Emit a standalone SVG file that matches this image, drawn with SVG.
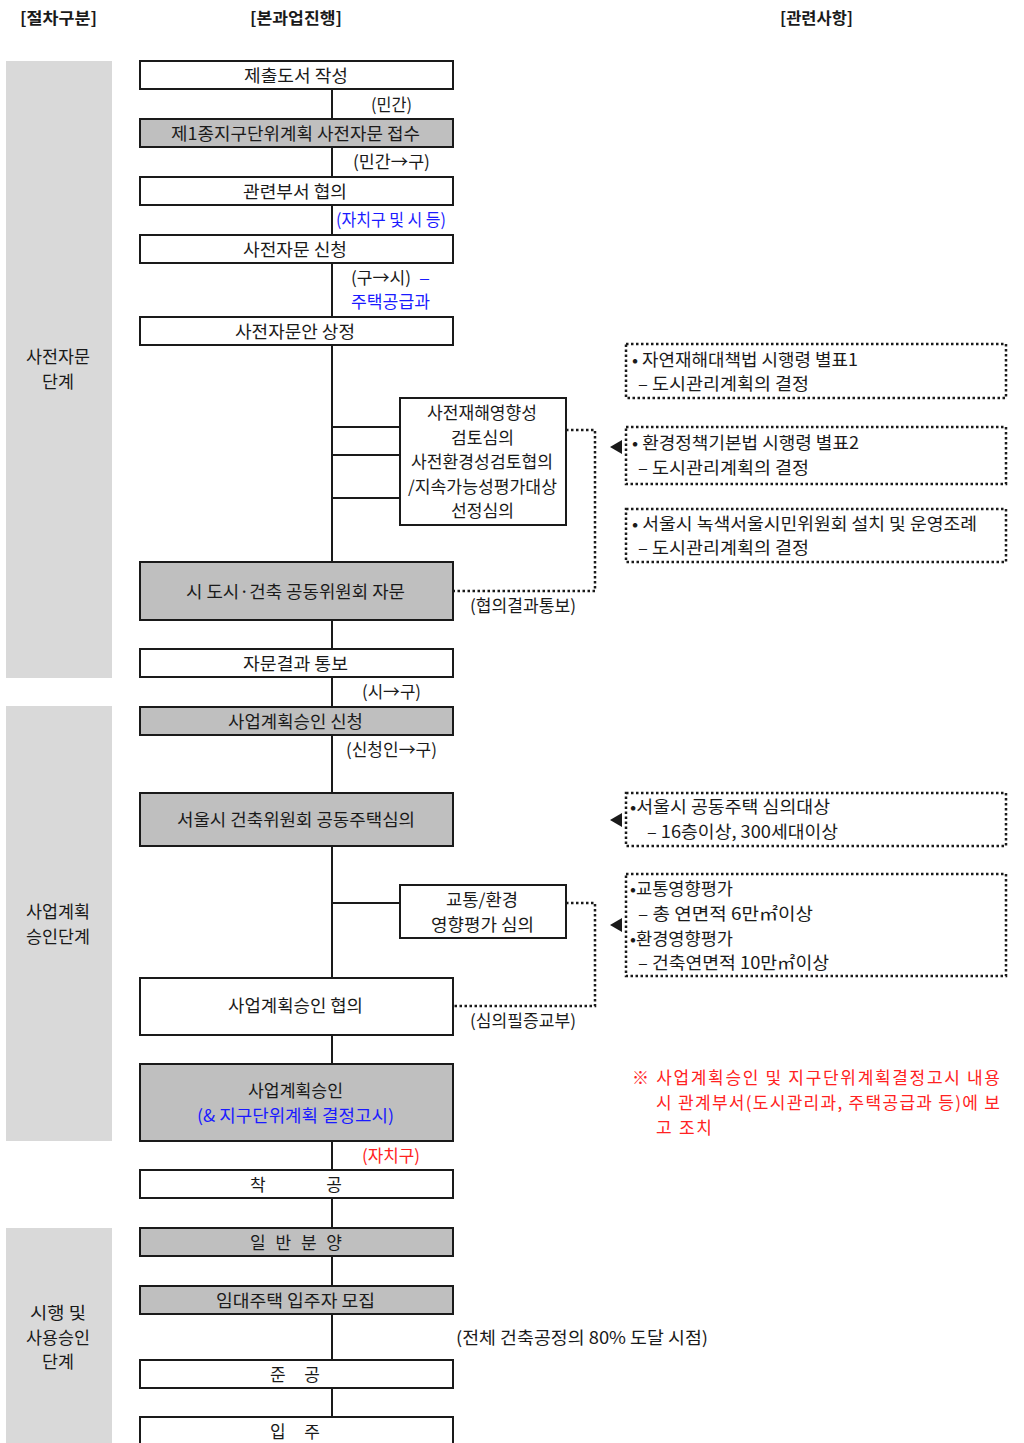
<svg xmlns="http://www.w3.org/2000/svg" width="1024" height="1443" viewBox="0 0 1024 1443">
<style>
text{font-family:"Noto Sans CJK KR","Noto Sans",sans-serif;font-size:17px;fill:#1a1a1a}
.h{font-weight:bold;font-size:16px}
.b{fill:#1a1aff}
.r{fill:#ff2222}
.box{fill:#fff;stroke:#1a1a1a;stroke-width:2}
.gbox{fill:#bfbfbf;stroke:#1a1a1a;stroke-width:2}
.phase{fill:#d9d9d9}
.ln{stroke:#1a1a1a;stroke-width:2;fill:none}
.dot{stroke:#1a1a1a;stroke-width:2.5;fill:none;stroke-dasharray:2.5 2.5}
.dbox{fill:none;stroke:#1a1a1a;stroke-width:2.5;stroke-dasharray:2.5 2.5}
.arr{fill:#1a1a1a}
</style>
<rect width="1024" height="1443" fill="#fff"/>

<g id="headers">
<text class="h" x="20" y="24" textLength="77" lengthAdjust="spacingAndGlyphs">[절차구분]</text>
<text class="h" x="250" y="24" textLength="92" lengthAdjust="spacingAndGlyphs">[본과업진행]</text>
<text class="h" x="780" y="24" textLength="73" lengthAdjust="spacingAndGlyphs">[관련사항]</text>
</g>

<g id="phase1"><rect class="phase" x="6" y="61" width="106" height="617"/>
<text x="26" y="363" textLength="64" lengthAdjust="spacingAndGlyphs">사전자문</text>
<text x="42" y="388" textLength="32" lengthAdjust="spacingAndGlyphs">단계</text></g>
<g id="phase2"><rect class="phase" x="6" y="706" width="106" height="435"/>
<text x="26" y="918" textLength="64" lengthAdjust="spacingAndGlyphs">사업계획</text>
<text x="26" y="943" textLength="64" lengthAdjust="spacingAndGlyphs">승인단계</text></g>
<g id="phase3"><rect class="phase" x="6" y="1228" width="106" height="215"/>
<text x="30" y="1319" textLength="56" lengthAdjust="spacingAndGlyphs">시행 및</text>
<text x="26" y="1344" textLength="64" lengthAdjust="spacingAndGlyphs">사용승인</text>
<text x="42" y="1368" textLength="32" lengthAdjust="spacingAndGlyphs">단계</text></g>

<g id="connectors">
<line class="ln" x1="332" y1="89" x2="332" y2="1443"/>
<line class="ln" x1="332" y1="427" x2="400" y2="427"/>
<line class="ln" x1="332" y1="455" x2="400" y2="455"/>
<line class="ln" x1="332" y1="498" x2="400" y2="498"/>
<line class="ln" x1="332" y1="903" x2="400" y2="903"/>
<polyline class="dot" points="566,430 595,430 595,591 453,591"/>
<polyline class="dot" points="566,903 595,903 595,1006 453,1006"/>
<polygon class="arr" points="610,447 622,440 622,454"/>
<polygon class="arr" points="610,820 622,813 622,827"/>
<polygon class="arr" points="610,925 622,918 622,932"/>
<text x="371" y="111" textLength="41" lengthAdjust="spacingAndGlyphs">(민간)</text>
<text x="353" y="168" textLength="77" lengthAdjust="spacingAndGlyphs">(민간→구)</text>
<text class="b" x="336" y="226" textLength="110" lengthAdjust="spacingAndGlyphs">(자치구 및 시 등)</text>
<text x="351" y="284" textLength="60" lengthAdjust="spacingAndGlyphs">(구→시)</text>
<text class="b" x="419" y="284" textLength="11" lengthAdjust="spacingAndGlyphs">–</text>
<text class="b" x="351" y="308" textLength="79" lengthAdjust="spacingAndGlyphs">주택공급과</text>
<text x="470" y="612" textLength="106" lengthAdjust="spacingAndGlyphs">(협의결과통보)</text>
<text x="362" y="698" textLength="59" lengthAdjust="spacingAndGlyphs">(시→구)</text>
<text x="346" y="756" textLength="91" lengthAdjust="spacingAndGlyphs">(신청인→구)</text>
<text x="470" y="1027" textLength="106" lengthAdjust="spacingAndGlyphs">(심의필증교부)</text>
<text class="r" x="362" y="1162" textLength="58" lengthAdjust="spacingAndGlyphs">(자치구)</text>
<text x="456" y="1344" textLength="252" lengthAdjust="spacingAndGlyphs">(전체 건축공정의 80% 도달 시점)</text>
</g>

<g id="n1"><rect class="box" x="140" y="61" width="313" height="28"/><text x="244" y="82" textLength="104" lengthAdjust="spacingAndGlyphs">제출도서 작성</text></g>
<g id="n2"><rect class="gbox" x="140" y="119" width="313" height="28"/><text x="171" y="140" textLength="249" lengthAdjust="spacingAndGlyphs">제1종지구단위계획 사전자문 접수</text></g>
<g id="n3"><rect class="box" x="140" y="177" width="313" height="28"/><text x="243" y="198" textLength="104" lengthAdjust="spacingAndGlyphs">관련부서 협의</text></g>
<g id="n4"><rect class="box" x="140" y="235" width="313" height="28"/><text x="243" y="256" textLength="104" lengthAdjust="spacingAndGlyphs">사전자문 신청</text></g>
<g id="n5"><rect class="box" x="140" y="317" width="313" height="28"/><text x="235" y="338" textLength="120" lengthAdjust="spacingAndGlyphs">사전자문안 상정</text></g>
<g id="n6"><rect class="box" x="400" y="398" width="166" height="127"/>
<text x="427" y="419" textLength="110" lengthAdjust="spacingAndGlyphs">사전재해영향성</text>
<text x="451" y="444" textLength="63" lengthAdjust="spacingAndGlyphs">검토심의</text>
<text x="411" y="468" textLength="142" lengthAdjust="spacingAndGlyphs">사전환경성검토협의</text>
<text x="408" y="493" textLength="149" lengthAdjust="spacingAndGlyphs">/지속가능성평가대상</text>
<text x="451" y="517" textLength="63" lengthAdjust="spacingAndGlyphs">선정심의</text></g>
<g id="n7"><rect class="gbox" x="140" y="562" width="313" height="58"/><text x="186" y="598" textLength="219" lengthAdjust="spacingAndGlyphs">시 도시·건축 공동위원회 자문</text></g>
<g id="n8"><rect class="box" x="140" y="649" width="313" height="28"/><text x="243" y="670" textLength="105" lengthAdjust="spacingAndGlyphs">자문결과 통보</text></g>
<g id="n9"><rect class="gbox" x="140" y="707" width="313" height="28"/><text x="228" y="728" textLength="135" lengthAdjust="spacingAndGlyphs">사업계획승인 신청</text></g>
<g id="n10"><rect class="gbox" x="140" y="793" width="313" height="53"/><text x="177" y="826" textLength="238" lengthAdjust="spacingAndGlyphs">서울시 건축위원회 공동주택심의</text></g>
<g id="n11"><rect class="box" x="400" y="885" width="166" height="53"/>
<text x="446" y="906" textLength="72" lengthAdjust="spacingAndGlyphs">교통/환경</text>
<text x="431" y="931" textLength="103" lengthAdjust="spacingAndGlyphs">영향평가 심의</text></g>
<g id="n12"><rect class="box" x="140" y="978" width="313" height="57"/><text x="228" y="1012" textLength="135" lengthAdjust="spacingAndGlyphs">사업계획승인 협의</text></g>
<g id="n13"><rect class="gbox" x="140" y="1064" width="313" height="77"/>
<text x="248" y="1097" textLength="95" lengthAdjust="spacingAndGlyphs">사업계획승인</text>
<text class="b" x="197" y="1122" textLength="197" lengthAdjust="spacingAndGlyphs">(&amp; 지구단위계획 결정고시)</text></g>
<g id="n14"><rect class="box" x="140" y="1170" width="313" height="28"/><text x="250" y="1191" textLength="92" lengthAdjust="spacing">착 공</text></g>
<g id="n15"><rect class="gbox" x="140" y="1228" width="313" height="28"/><text x="250" y="1249" textLength="92" lengthAdjust="spacing">일 반 분 양</text></g>
<g id="n16"><rect class="gbox" x="140" y="1286" width="313" height="28"/><text x="216" y="1307" textLength="159" lengthAdjust="spacingAndGlyphs">임대주택 입주자 모집</text></g>
<g id="n17"><rect class="box" x="140" y="1360" width="313" height="28"/><text x="270" y="1381" textLength="50" lengthAdjust="spacing">준 공</text></g>
<g id="n18"><rect class="box" x="140" y="1417" width="313" height="30"/><text x="270" y="1438" textLength="50" lengthAdjust="spacing">입 주</text></g>

<g id="r1"><rect class="dbox" x="626" y="344" width="380" height="54"/>
<text x="632" y="366" textLength="226" lengthAdjust="spacingAndGlyphs">• 자연재해대책법 시행령 별표1</text>
<text x="638" y="390" textLength="171" lengthAdjust="spacingAndGlyphs">– 도시관리계획의 결정</text></g>
<g id="r2"><rect class="dbox" x="626" y="427" width="380" height="57"/>
<text x="632" y="449" textLength="227" lengthAdjust="spacingAndGlyphs">• 환경정책기본법 시행령 별표2</text>
<text x="638" y="474" textLength="171" lengthAdjust="spacingAndGlyphs">– 도시관리계획의 결정</text></g>
<g id="r3"><rect class="dbox" x="626" y="509" width="380" height="53"/>
<text x="632" y="530" textLength="345" lengthAdjust="spacingAndGlyphs">• 서울시 녹색서울시민위원회 설치 및 운영조례</text>
<text x="638" y="554" textLength="171" lengthAdjust="spacingAndGlyphs">– 도시관리계획의 결정</text></g>
<g id="r4"><rect class="dbox" x="626" y="793" width="380" height="53"/>
<text x="630" y="813" textLength="200" lengthAdjust="spacingAndGlyphs">•서울시 공동주택 심의대상</text>
<text x="647" y="838" textLength="191" lengthAdjust="spacingAndGlyphs">– 16층이상, 300세대이상</text></g>
<g id="r5"><rect class="dbox" x="626" y="874" width="380" height="102"/>
<text x="630" y="895" textLength="103" lengthAdjust="spacingAndGlyphs">•교통영향평가</text>
<text x="638" y="920" textLength="175" lengthAdjust="spacingAndGlyphs">– 총 연면적 6만㎡이상</text>
<text x="630" y="945" textLength="103" lengthAdjust="spacingAndGlyphs">•환경영향평가</text>
<text x="638" y="969" textLength="191" lengthAdjust="spacingAndGlyphs">– 건축연면적 10만㎡이상</text></g>

<g id="note">
<text class="r" x="632" y="1084" textLength="368" lengthAdjust="spacing">※ 사업계획승인 및 지구단위계획결정고시 내용</text>
<text class="r" x="656" y="1109" textLength="344" lengthAdjust="spacing">시 관계부서(도시관리과, 주택공급과 등)에 보</text>
<text class="r" x="656" y="1134" textLength="56" lengthAdjust="spacing">고 조치</text>
</g>
</svg>
